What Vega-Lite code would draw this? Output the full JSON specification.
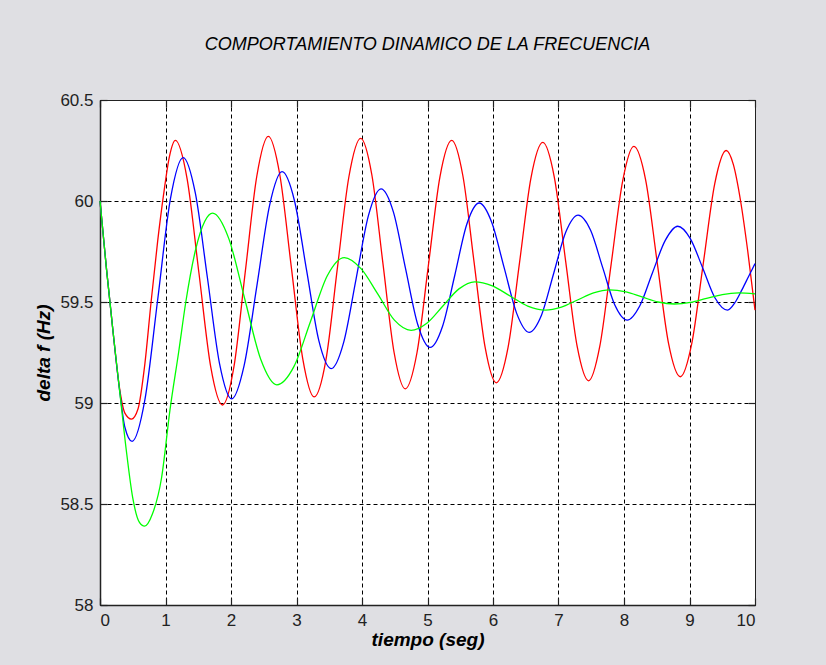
{
  "$schema": "https://vega.github.io/schema/vega-lite/v6.json",
  "width": 655,
  "height": 505,
  "autosize": {"type": "none"},
  "padding": {"left": 100, "top": 100, "right": 71, "bottom": 60},
  "background": "#dfdfe3",
  "title": {"text": "COMPORTAMIENTO DINAMICO DE LA FRECUENCIA", "font": "Liberation Sans", "fontSize": 18, "fontStyle": "italic", "fontWeight": "normal", "color": "#000000", "anchor": "middle", "offset": 37},
  "config": {
    "view": {"fill": "white", "stroke": "black", "strokeWidth": 1},
    "axis": {"labelFont": "Liberation Sans", "labelFontSize": 17, "labelColor": "#222222", "titleFont": "Liberation Sans", "titleFontSize": 19, "titleFontWeight": "bold", "titleFontStyle": "italic", "titleColor": "#000000", "domainColor": "#222222", "tickColor": "#222222", "tickWidth": 1.2, "gridColor": "#000000", "gridDash": [4, 3], "gridOpacity": 1, "gridWidth": 1}
  },
  "data": {"values": [
    {"s":"1","t":0,"v":60.0},{"s":"1","t":0.1,"v":59.66},{"s":"1","t":0.2,"v":59.35},{"s":"1","t":0.3,"v":59.07},{"s":"1","t":0.38,"v":58.95},{"s":"1","t":0.48,"v":58.92},{"s":"1","t":0.58,"v":58.97},{"s":"1","t":0.68,"v":59.18},{"s":"1","t":0.78,"v":59.5},{"s":"1","t":0.88,"v":59.8},{"s":"1","t":0.97,"v":60.03},{"s":"1","t":1.06,"v":60.22},{"s":"1","t":1.15,"v":60.3},
    {"s":"1","t":1.33,"v":60.11},{"s":"1","t":1.51,"v":59.645},{"s":"1","t":1.69,"v":59.18},{"s":"1","t":1.87,"v":58.99},
    {"s":"1","t":2.045,"v":59.18},{"s":"1","t":2.22,"v":59.655},{"s":"1","t":2.395,"v":60.125},{"s":"1","t":2.57,"v":60.32},
    {"s":"1","t":2.745,"v":60.13},{"s":"1","t":2.92,"v":59.675},{"s":"1","t":3.095,"v":59.22},{"s":"1","t":3.27,"v":59.03},
    {"s":"1","t":3.45,"v":59.215},{"s":"1","t":3.625,"v":59.67},{"s":"1","t":3.8,"v":60.12},{"s":"1","t":3.98,"v":60.31},
    {"s":"1","t":4.15,"v":60.13},{"s":"1","t":4.32,"v":59.69},{"s":"1","t":4.49,"v":59.25},{"s":"1","t":4.66,"v":59.07},
    {"s":"1","t":4.84,"v":59.25},{"s":"1","t":5.015,"v":59.685},{"s":"1","t":5.19,"v":60.12},{"s":"1","t":5.37,"v":60.3},
    {"s":"1","t":5.54,"v":60.125},{"s":"1","t":5.71,"v":59.7},{"s":"1","t":5.88,"v":59.275},{"s":"1","t":6.05,"v":59.1},
    {"s":"1","t":6.23,"v":59.275},{"s":"1","t":6.405,"v":59.695},{"s":"1","t":6.58,"v":60.115},{"s":"1","t":6.76,"v":60.29},
    {"s":"1","t":6.935,"v":60.12},{"s":"1","t":7.11,"v":59.7},{"s":"1","t":7.285,"v":59.28},{"s":"1","t":7.46,"v":59.11},
    {"s":"1","t":7.63,"v":59.28},{"s":"1","t":7.805,"v":59.69},{"s":"1","t":7.98,"v":60.1},{"s":"1","t":8.15,"v":60.27},
    {"s":"1","t":8.33,"v":60.105},{"s":"1","t":8.505,"v":59.7},{"s":"1","t":8.68,"v":59.295},{"s":"1","t":8.86,"v":59.13},
    {"s":"1","t":9.035,"v":59.295},{"s":"1","t":9.21,"v":59.69},{"s":"1","t":9.385,"v":60.085},{"s":"1","t":9.56,"v":60.25},
    {"s":"1","t":9.67,"v":60.18},{"s":"1","t":9.78,"v":60.0},{"s":"1","t":9.89,"v":59.75},{"s":"1","t":10.0,"v":59.46},

    {"s":"2","t":0,"v":60.0},{"s":"2","t":0.1,"v":59.66},{"s":"2","t":0.2,"v":59.35},{"s":"2","t":0.3,"v":59.06},{"s":"2","t":0.38,"v":58.88},{"s":"2","t":0.49,"v":58.81},
    {"s":"2","t":0.685,"v":59.015},{"s":"2","t":0.88,"v":59.51},{"s":"2","t":1.075,"v":60.01},{"s":"2","t":1.27,"v":60.215},
    {"s":"2","t":1.455,"v":60.04},{"s":"2","t":1.64,"v":59.62},{"s":"2","t":1.825,"v":59.195},{"s":"2","t":2.01,"v":59.02},
    {"s":"2","t":2.2,"v":59.185},{"s":"2","t":2.395,"v":59.58},{"s":"2","t":2.59,"v":59.98},{"s":"2","t":2.78,"v":60.145},
    {"s":"2","t":2.97,"v":60.0},{"s":"2","t":3.155,"v":59.655},{"s":"2","t":3.34,"v":59.31},{"s":"2","t":3.53,"v":59.17},
    {"s":"2","t":3.72,"v":59.3},{"s":"2","t":3.91,"v":59.615},{"s":"2","t":4.1,"v":59.93},{"s":"2","t":4.29,"v":60.06},
    {"s":"2","t":4.48,"v":59.945},{"s":"2","t":4.665,"v":59.665},{"s":"2","t":4.85,"v":59.39},{"s":"2","t":5.04,"v":59.275},
    {"s":"2","t":5.23,"v":59.38},{"s":"2","t":5.415,"v":59.63},{"s":"2","t":5.6,"v":59.885},{"s":"2","t":5.79,"v":59.99},
    {"s":"2","t":5.98,"v":59.895},{"s":"2","t":6.17,"v":59.67},{"s":"2","t":6.36,"v":59.445},{"s":"2","t":6.55,"v":59.35},
    {"s":"2","t":6.74,"v":59.435},{"s":"2","t":6.925,"v":59.64},{"s":"2","t":7.11,"v":59.845},{"s":"2","t":7.3,"v":59.93},
    {"s":"2","t":7.49,"v":59.855},{"s":"2","t":7.675,"v":59.67},{"s":"2","t":7.86,"v":59.485},{"s":"2","t":8.05,"v":59.41},
    {"s":"2","t":8.24,"v":59.48},{"s":"2","t":8.435,"v":59.645},{"s":"2","t":8.63,"v":59.805},{"s":"2","t":8.82,"v":59.875},
    {"s":"2","t":9.01,"v":59.815},{"s":"2","t":9.2,"v":59.67},{"s":"2","t":9.39,"v":59.52},{"s":"2","t":9.58,"v":59.46},
    {"s":"2","t":9.7,"v":59.5},{"s":"2","t":9.8,"v":59.56},{"s":"2","t":9.9,"v":59.625},{"s":"2","t":10.0,"v":59.69},

    {"s":"3","t":0,"v":60.0},{"s":"3","t":0.1,"v":59.66},{"s":"3","t":0.2,"v":59.35},{"s":"3","t":0.3,"v":59.06},{"s":"3","t":0.4,"v":58.77},{"s":"3","t":0.5,"v":58.53},{"s":"3","t":0.6,"v":58.41},{"s":"3","t":0.68,"v":58.39},
    {"s":"3","t":0.8,"v":58.45},{"s":"3","t":0.94,"v":58.63},{"s":"3","t":1.07,"v":58.97},{"s":"3","t":1.2,"v":59.25},{"s":"3","t":1.31,"v":59.5},{"s":"3","t":1.46,"v":59.76},{"s":"3","t":1.6,"v":59.9},{"s":"3","t":1.72,"v":59.94},
    {"s":"3","t":1.965,"v":59.815},{"s":"3","t":2.21,"v":59.515},{"s":"3","t":2.455,"v":59.215},{"s":"3","t":2.7,"v":59.09},
    {"s":"3","t":2.96,"v":59.18},{"s":"3","t":3.215,"v":59.405},{"s":"3","t":3.47,"v":59.63},{"s":"3","t":3.73,"v":59.72},
    {"s":"3","t":3.985,"v":59.665},{"s":"3","t":4.24,"v":59.54},{"s":"3","t":4.495,"v":59.41},{"s":"3","t":4.75,"v":59.36},
    {"s":"3","t":4.99,"v":59.395},{"s":"3","t":5.235,"v":59.48},{"s":"3","t":5.48,"v":59.565},{"s":"3","t":5.72,"v":59.6},
    {"s":"3","t":5.99,"v":59.58},{"s":"3","t":6.26,"v":59.53},{"s":"3","t":6.53,"v":59.48},{"s":"3","t":6.8,"v":59.46},
    {"s":"3","t":7.045,"v":59.475},{"s":"3","t":7.29,"v":59.51},{"s":"3","t":7.535,"v":59.545},{"s":"3","t":7.78,"v":59.56},
    {"s":"3","t":8.03,"v":59.55},{"s":"3","t":8.275,"v":59.525},{"s":"3","t":8.52,"v":59.5},{"s":"3","t":8.77,"v":59.49},
    {"s":"3","t":9.015,"v":59.498},{"s":"3","t":9.26,"v":59.518},{"s":"3","t":9.5,"v":59.537},{"s":"3","t":9.75,"v":59.545},{"s":"3","t":10.0,"v":59.54}
  ]},
  "layer": [
    {
      "mark": {"type": "line", "interpolate": "monotone", "strokeWidth": 1.3},
      "encoding": {
        "x": {"field": "t", "type": "quantitative", "scale": {"domain": [0, 10], "nice": false, "zero": false},
              "axis": {"orient": "bottom", "values": [0,1,2,3,4,5,6,7,8,9,10], "title": "tiempo (seg)", "tickSize": -7, "labelPadding": 14, "titlePadding": 2, "grid": true, "domainWidth": 1.5}},
        "y": {"field": "v", "type": "quantitative", "scale": {"domain": [58, 60.5], "nice": false, "zero": false},
              "axis": {"orient": "left", "values": [58, 58.5, 59, 59.5, 60, 60.5], "format": ".1~f", "title": "delta f (Hz)", "tickSize": -7, "labelPadding": 14, "titlePadding": 6, "grid": true, "domainWidth": 1.5}},
        "color": {"field": "s", "type": "nominal", "scale": {"domain": ["1", "2", "3"], "range": ["#ff0000", "#0000ff", "#00ff00"]}, "legend": null}
      }
    },
    {
      "mark": {"type": "line", "strokeOpacity": 0},
      "encoding": {
        "x": {"field": "t", "type": "quantitative", "scale": {"domain": [0, 10], "nice": false, "zero": false},
              "axis": {"orient": "top", "values": [0,1,2,3,4,5,6,7,8,9,10], "title": null, "labels": false, "tickSize": -7, "grid": false}},
        "y": {"field": "v", "type": "quantitative", "scale": {"domain": [58, 60.5], "nice": false, "zero": false},
              "axis": {"orient": "right", "values": [58, 58.5, 59, 59.5, 60, 60.5], "title": null, "labels": false, "tickSize": -7, "grid": false}},
        "detail": {"field": "s"}
      }
    }
  ],
  "resolve": {"axis": {"x": "independent", "y": "independent"}}
}
